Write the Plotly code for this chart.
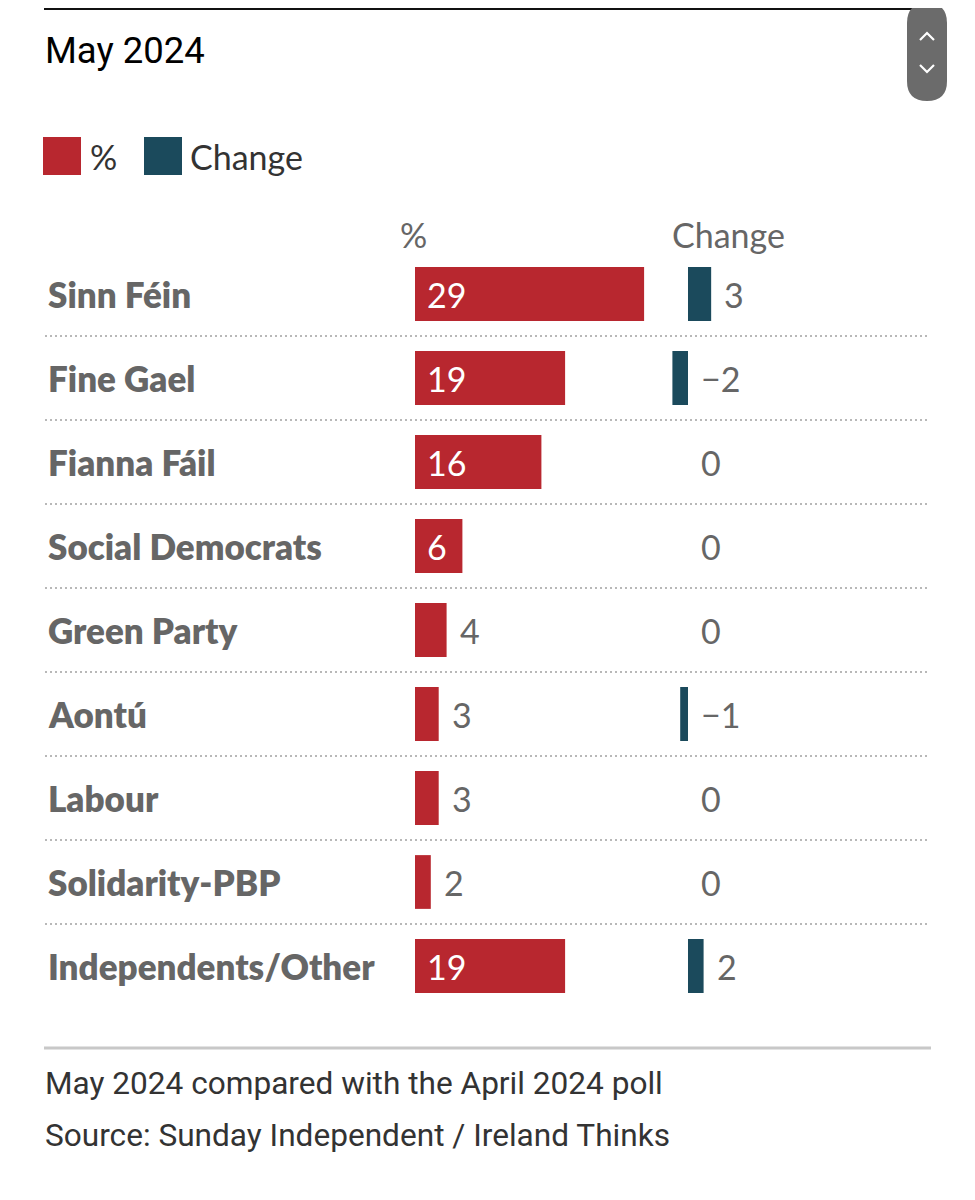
import plotly.graph_objects as go

# ---- data ----
parties = ["Sinn Féin", "Fine Gael", "Fianna Fáil", "Social Democrats", "Green Party",
           "Aontú", "Labour", "Solidarity-PBP", "Independents/Other"]
pct = [29, 19, 16, 6, 4, 3, 3, 2, 19]
change = [3, -2, 0, 0, 0, -1, 0, 0, 2]

title = "May 2024"
note = "May 2024 compared with the April 2024 poll"
source = "Source: Sunday Independent / Ireland Thinks"

RED = "#b8272f"
TEAL = "#1b4a5c"
GRAY = "#666666"

# page has an 8px body margin; figure sized to fit the 975x1200 window
OFF = 8
W, H = 975 - 2 * OFF, 1200 - 2 * OFF
def px(x): return (x - OFF) / W
def py(y): return 1 - (y - OFF) / H

idx = list(range(len(parties)))
LBL_FONT = "Lato"
NARROW = "Roboto"

fig = go.Figure()
fig.add_trace(go.Bar(x=pct, y=idx, orientation="h", marker=dict(color=RED, line=dict(width=0)),
                     width=0.64, xaxis="x", yaxis="y", hoverinfo="skip", showlegend=False))
fig.add_trace(go.Bar(x=change, y=idx, orientation="h", marker=dict(color=TEAL, line=dict(width=0)),
                     width=0.64, xaxis="x2", yaxis="y", hoverinfo="skip", showlegend=False))

ann = []
shapes = []
# party labels
for i, p in enumerate(parties):
    ann.append(dict(text=p, x=px(46), xref="paper", y=i, yref="y", xanchor="left", yanchor="middle",
                    showarrow=False, font=dict(family=LBL_FONT, size=35, color=GRAY, weight=800)))
# pct labels
for i, v in enumerate(pct):
    if v >= 5:
        ann.append(dict(text=str(v), x=0, xref="x", y=i, yref="y", xanchor="left", yanchor="middle",
                        xshift=10, showarrow=False, font=dict(family=LBL_FONT, size=34, color="white")))
    else:
        ann.append(dict(text=str(v), x=v, xref="x", y=i, yref="y", xanchor="left", yanchor="middle",
                        xshift=11, showarrow=False, font=dict(family=LBL_FONT, size=34, color=GRAY)))
# change labels
for i, c in enumerate(change):
    t = str(c) if c >= 0 else "\u2212" + str(abs(c))
    ann.append(dict(text=t, x=max(c, 0), xref="x2", y=i, yref="y", xanchor="left", yanchor="middle",
                    xshift=11, showarrow=False, font=dict(family=LBL_FONT, size=34, color=GRAY)))
# separators
for i in range(len(parties) - 1):
    shapes.append(dict(type="line", xref="paper", yref="y", x0=px(45), x1=px(930), y0=i + 0.5, y1=i + 0.5,
                       line=dict(color="#b8b8b8", width=2, dash="2px,3px")))

# headers
ann.append(dict(text="%", x=px(398), xref="paper", y=py(234), yref="paper", xanchor="left", yanchor="middle",
                showarrow=False, font=dict(family=LBL_FONT, size=34, color=GRAY)))
ann.append(dict(text="Change", x=px(670), xref="paper", y=py(234), yref="paper", xanchor="left", yanchor="middle",
                showarrow=False, font=dict(family=LBL_FONT, size=34, color=GRAY)))

# legend
shapes.append(dict(type="rect", xref="paper", yref="paper", x0=px(43), x1=px(81), y0=py(137), y1=py(175),
                   fillcolor=RED, line=dict(width=0)))
shapes.append(dict(type="rect", xref="paper", yref="paper", x0=px(144), x1=px(182), y0=py(137), y1=py(175),
                   fillcolor=TEAL, line=dict(width=0)))
ann.append(dict(text="%", x=px(88), xref="paper", y=py(156), yref="paper", xanchor="left", yanchor="middle",
                showarrow=False, font=dict(family=LBL_FONT, size=34, color="#333333")))
ann.append(dict(text="Change", x=px(188), xref="paper", y=py(156), yref="paper", xanchor="left", yanchor="middle",
                showarrow=False, font=dict(family=LBL_FONT, size=34, color="#333333")))

# title & notes
ann.append(dict(text=title, x=px(43), xref="paper", y=py(51), yref="paper", xanchor="left", yanchor="middle",
                showarrow=False, font=dict(family=NARROW, size=36.5, color="#000000")))
ann.append(dict(text=note, x=px(43), xref="paper", y=py(1083), yref="paper", xanchor="left", yanchor="middle",
                showarrow=False, font=dict(family=NARROW, size=31.6, color="#333333")))
ann.append(dict(text=source, x=px(43), xref="paper", y=py(1135), yref="paper", xanchor="left", yanchor="middle",
                showarrow=False, font=dict(family=NARROW, size=31.6, color="#333333")))

# top and bottom rules
shapes.append(dict(type="line", xref="paper", yref="paper", x0=px(44), x1=px(936), y0=py(9), y1=py(9),
                   line=dict(color="#111111", width=2)))
shapes.append(dict(type="line", xref="paper", yref="paper", x0=px(44), x1=px(931), y0=py(1048), y1=py(1048),
                   line=dict(color="#c8c8c8", width=3)))

# scroll widget
x0, x1, y0, y1, r = 907, 947, 3, 101, 20
path = (f"M {px(x0)},{py(y0 + r)} "
        f"Q {px(x0)},{py(y0)} {px(x0 + r)},{py(y0)} "
        f"Q {px(x1)},{py(y0)} {px(x1)},{py(y0 + r)} "
        f"L {px(x1)},{py(y1 - r)} "
        f"Q {px(x1)},{py(y1)} {px(x0 + r)},{py(y1)} "
        f"Q {px(x0)},{py(y1)} {px(x0)},{py(y1 - r)} Z")
shapes.append(dict(type="path", xref="paper", yref="paper", path=path, fillcolor="#6b6b6b", line=dict(width=0)))
shapes.append(dict(type="path", xref="paper", yref="paper",
                   path=f"M {px(920)},{py(40)} L {px(927)},{py(33)} L {px(934)},{py(40)}",
                   line=dict(color="white", width=2.2)))
shapes.append(dict(type="path", xref="paper", yref="paper",
                   path=f"M {px(920)},{py(65)} L {px(927)},{py(72)} L {px(934)},{py(65)}",
                   line=dict(color="white", width=2.2)))

pscale = 7.9
cscale = 7.8
fig.update_layout(
    width=W, height=H, margin=dict(l=0, r=0, t=0, b=0),
    paper_bgcolor="white", plot_bgcolor="rgba(0,0,0,0)",
    showlegend=False, barmode="overlay",
    xaxis=dict(domain=[px(415), px(415 + 30 * pscale)], range=[0, 30], visible=False, fixedrange=True),
    xaxis2=dict(domain=[px(688 - 3 * cscale), px(688 + 3 * cscale)], range=[-3, 3], visible=False,
                anchor="y", fixedrange=True),
    yaxis=dict(domain=[py(1008), py(252)], range=[8.5, -0.5], visible=False, fixedrange=True),
    annotations=ann, shapes=shapes,
)
fig.write_html("out.html")
